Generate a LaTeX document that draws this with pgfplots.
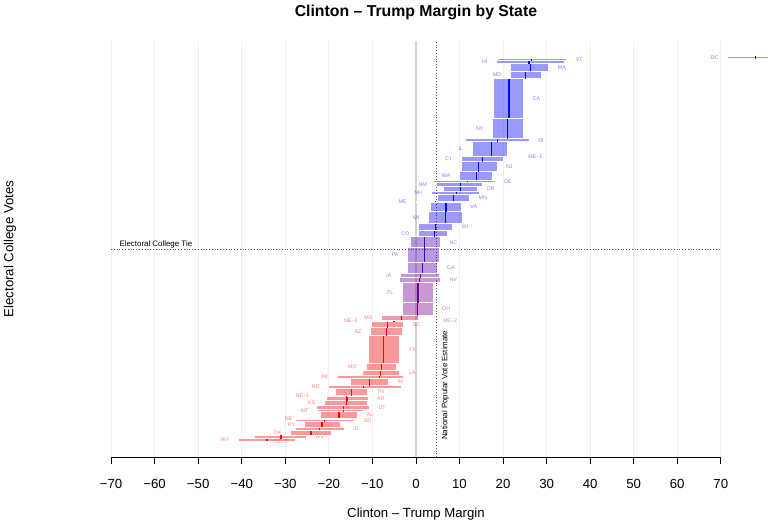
\documentclass[border=0pt]{standalone}
\usepackage{pgfplots}
\pgfplotsset{compat=1.18}
\usepackage{fontspec}
\setmainfont{Liberation Sans}

\tikzset{lbl/.style={font=\fontsize{5.3}{6}\selectfont, inner sep=0pt, text opacity=0.5}}

\newcommand{\stbar}[7]{%
  \addplot[draw=white, line width=0.7pt, fill=blue!#7!red, fill opacity=0.4] coordinates {(#4,#2) (#5,#2) (#5,#3) (#4,#3)} --cycle;
  \addplot[draw=blue!#7!red, line width=1.4pt] coordinates {(#6,#2) (#6,#3)};
}
\newcommand{\stL}[7]{%
  \stbar{#1}{#2}{#3}{#4}{#5}{#6}{#7}%
  \node[lbl, text=blue!#7!red, anchor=east, xshift=-9pt] at (axis cs:#4,{(#2+#3)/2}) {#1};
}
\newcommand{\stR}[7]{%
  \stbar{#1}{#2}{#3}{#4}{#5}{#6}{#7}%
  \node[lbl, text=blue!#7!red, anchor=west, xshift=9pt] at (axis cs:#5,{(#2+#3)/2}) {#1};
}

\begin{document}
\begin{tikzpicture}
\begin{axis}[
  scale only axis, width=609.7pt, height=416pt,
  xmin=-70, xmax=70, ymin=-21.5, ymax=559.5,
  clip=false,
  axis x line*=bottom, axis y line=none,
  xtick={-70,-60,...,70},
  xticklabels={−70,−60,−50,−40,−30,−20,−10,0,10,20,30,40,50,60,70},
  tick align=outside, major tick length=7pt,
  every tick/.style={black, line width=0.6pt},
  x axis line style={black, line width=0.6pt, -},
  xticklabel style={font=\fontsize{13.2}{15}\selectfont, anchor=center, yshift=-20pt},
  xmajorgrids, grid style={gray!12, line width=0.8pt},
  ytick=\empty,
]
% reference lines
\addplot[gray!35, line width=1.5pt] coordinates {(0,-21.5) (0,559.5)};
\addplot[black!65, line width=0.8pt, dash pattern=on 0.8pt off 2pt] coordinates {(4.7,-21.5) (4.7,559.5)};
\addplot[black!65, line width=0.8pt, dash pattern=on 0.8pt off 2pt] coordinates {(-70,269) (70,269)};

% states: name, EV from, EV to, low, high, median, percent blue
\stR{NE−3}{0}{1}{-46}{-34.6}{-40}{0}
\stL{WY}{1}{4}{-40.8}{-27.7}{-34.2}{0}
\stR{WV}{4}{9}{-37.1}{-25.2}{-31.0}{0}
\stL{OK}{9}{16}{-28.8}{-19.5}{-24.1}{0}
\stR{ID}{16}{20}{-27.7}{-16.5}{-22.2}{0}
\stL{KY}{20}{28}{-25.6}{-17.4}{-21.6}{0}
\stR{SD}{28}{31}{-27.7}{-14.1}{-21.0}{0}
\stL{NE}{31}{33}{-26.3}{-15.5}{-21.0}{0}
\stR{AL}{33}{42}{-22.0}{-13.4}{-17.7}{0}
\stL{MT}{42}{45}{-22.6}{-12.1}{-16.7}{0}
\stR{UT}{45}{51}{-22.9}{-10.7}{-16.6}{0}
\stL{KS}{51}{57}{-21.0}{-11.1}{-16.0}{0}
\stR{AR}{57}{63}{-20.6}{-11.0}{-15.8}{0}
\stL{NE−1}{63}{64}{-22.4}{-9.5}{-15.9}{0}
\stR{TN}{64}{75}{-18.4}{-11.1}{-14.8}{0}
\stL{ND}{75}{78}{-20.0}{-3.3}{-12.1}{0}
\stR{IN}{78}{89}{-15.0}{-6.3}{-10.7}{0}
\stL{AK}{89}{92}{-18.0}{-2.9}{-8.4}{1}
\stR{LA}{92}{100}{-12.4}{-3.7}{-8.1}{0}
\stL{MO}{100}{110}{-11.5}{-4.5}{-7.9}{0}
\stR{TX}{110}{148}{-11.0}{-3.7}{-7.4}{0}
\stL{AZ}{148}{159}{-10.4}{-3.2}{-6.8}{3}
\stR{SC}{159}{168}{-10.2}{-2.8}{-6.5}{4}
\stL{NE−2}{168}{169}{-11.3}{1.0}{-5.0}{18}
\stR{ME−2}{169}{170}{-10.0}{4.1}{-3.0}{30}
\stL{MS}{170}{176}{-7.9}{0.5}{-3.3}{20}
\stR{OH}{176}{194}{-3.1}{3.9}{0.3}{53}
\stL{FL}{194}{223}{-3.1}{4.0}{0.5}{56}
\stR{NV}{223}{229}{-3.8}{5.6}{0.8}{57}
\stL{IA}{229}{235}{-3.5}{5.4}{1.0}{59}
\stR{GA}{235}{251}{-1.9}{5.0}{1.5}{67}
\stL{PA}{251}{271}{-1.9}{5.4}{1.9}{71}
\stR{NC}{271}{286}{-1.3}{5.6}{1.9}{71}
\stL{CO}{286}{295}{0.6}{7.3}{4.3}{90}
\stR{WI}{295}{305}{0.6}{8.4}{4.5}{87}
\stL{MI}{305}{321}{2.9}{10.7}{6.8}{95}
\stR{VA}{321}{334}{3.3}{10.4}{6.9}{98}
\stL{ME}{334}{336}{0.0}{9.0}{4.5}{84}
\stR{MN}{336}{346}{5.0}{12.3}{8.6}{99}
\stL{NH}{346}{350}{3.5}{14.6}{9.3}{95}
\stR{OR}{350}{357}{6.3}{14.1}{10.2}{100}
\stL{NM}{357}{362}{4.6}{15.3}{10.2}{97}
\stR{DE}{362}{365}{4.0}{18.2}{11.8}{95}
\stL{WA}{365}{377}{10.0}{17.6}{13.9}{100}
\stR{NJ}{377}{391}{10.5}{18.6}{14.4}{100}
\stL{CT}{391}{398}{10.5}{20.0}{15.3}{100}
\stR{ME−1}{398}{399}{8.0}{23.7}{15.8}{98}
\stL{IL}{399}{419}{12.9}{21.0}{17.3}{100}
\stR{RI}{419}{423}{11.4}{26.0}{18.7}{100}
\stL{NY}{423}{452}{17.6}{24.7}{21.0}{100}
\stR{CA}{452}{507}{17.8}{24.7}{21.4}{100}
\stL{MD}{507}{517}{21.7}{28.9}{25.2}{100}
\stR{MA}{517}{528}{21.7}{30.5}{26.3}{100}
\stL{HI}{528}{532}{18.5}{34.0}{26.0}{100}
\stR{VT}{532}{535}{18.8}{34.6}{26.5}{100}
\stL{DC}{535}{538}{71.6}{84.4}{78.0}{100}

% annotations
\node[font=\fontsize{7.9}{9}\selectfont, anchor=base west, inner sep=0pt] at (axis cs:-68.1,272.5) {Electoral College Tie};
\node[font=\fontsize{7.9}{9}\selectfont, rotate=90, anchor=base west, inner sep=0pt] at (axis cs:7.2,2) {National Popular Vote Estimate};
\node[font=\fontsize{15.8}{18}\selectfont\bfseries, anchor=base] at (axis cs:0,594.4) {Clinton – Trump Margin by State};
\node[font=\fontsize{13.2}{15}\selectfont, anchor=center] at (axis cs:0,-101.1) {Clinton – Trump Margin};
\node[font=\fontsize{13.2}{15}\selectfont, rotate=90, anchor=center] at (axis cs:-93.2,269) {Electoral College Votes};
\coordinate (bbll) at (axis cs:-95.51,-110.9);
\coordinate (bbur) at (axis cs:80.84,616.8);
\end{axis}
\pgfresetboundingbox
\path[use as bounding box] (bbll) rectangle (bbur);
\end{tikzpicture}
\end{document}
